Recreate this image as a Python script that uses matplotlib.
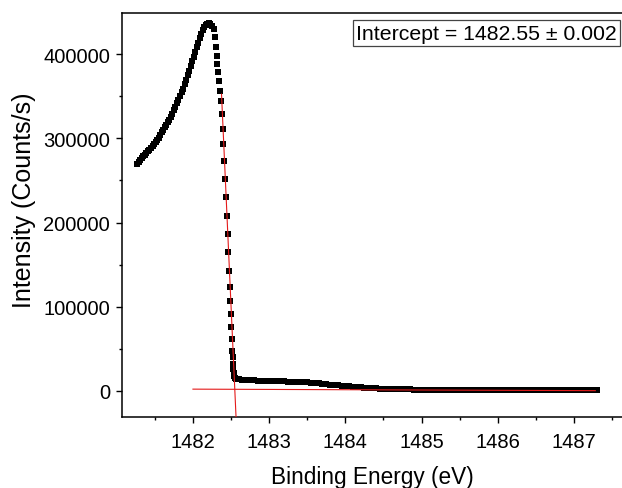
import numpy as np
import matplotlib
matplotlib.use("Agg")
import matplotlib.pyplot as plt
from matplotlib.ticker import MultipleLocator

plt.rcParams['font.family'] = ['Liberation Sans', 'DejaVu Sans']

# rising side of the edge (0.02 eV steps)
energy_rise = np.round(np.arange(1481.27, 1482.22, 0.02), 2)
intensity_rise = [
    270000, 272500, 274500, 276500, 278500, 280500, 282500, 284500, 286500, 288500,
    290500, 293000, 295500, 298000, 301000, 304000, 307000, 310000, 313000, 316000,
    319000, 322000, 325500, 329500, 333500, 337500, 341500, 345500, 350000, 354500,
    359000, 364000, 369500, 375000, 380500, 386000, 391500, 397000, 402500, 408000,
    413500, 419000, 424000, 428500, 432000, 434500, 436000, 436500,
]

# falling edge, points read one by one
energy_fall = [
    1482.23, 1482.25, 1482.27, 1482.285, 1482.30, 1482.31, 1482.32, 1482.33, 1482.34,
    1482.355, 1482.37, 1482.38, 1482.39, 1482.40, 1482.41, 1482.42, 1482.435, 1482.445,
    1482.455, 1482.465, 1482.47, 1482.48, 1482.49, 1482.50, 1482.505, 1482.51, 1482.515,
    1482.52, 1482.525, 1482.53, 1482.535, 1482.54, 1482.55, 1482.56, 1482.58,
]
intensity_fall = [
    436000, 434000, 430000, 420000, 408300, 397600, 388100, 378700, 368000,
    356100, 344200, 328800, 311000, 293200, 273000, 251600, 230300, 207700,
    186400, 165000, 142400, 123400, 106800, 91400, 75900, 61700, 47500,
    40400, 32000, 26100, 21400, 17800, 15500, 14800, 14200,
]

# flat tail above the edge (0.05 eV steps)
energy_tail = np.round(np.arange(1482.60, 1487.31, 0.05), 2)
intensity_tail = [
    14000, 13500, 13100, 12800, 12500, 12300, 12100, 12000, 11900, 11750,
    11600, 11450, 11300, 11150, 11000, 10850, 10700, 10450, 10150, 9850,
    9500, 9050, 8600, 8150, 7700, 7250, 6800, 6350, 5900, 5450,
    5000, 4600, 4200, 3850, 3550, 3250, 3000, 2800, 2600, 2450,
    2300, 2200, 2100, 2000, 1900, 1850, 1750, 1700, 1600, 1550,
    1500, 1450, 1400, 1350, 1300, 1250, 1200, 1150, 1100, 1100,
    1050, 1050, 1000, 1000, 950, 950, 950, 900, 900, 900,
    900, 850, 850, 850, 850, 800, 800, 800, 800, 800,
    800, 750, 750, 750, 750, 750, 700, 700, 700, 700,
    700, 700, 700, 700, 700,
]

# fitted lines (edge slope and background)
edge_fit_x = [1482.375, 1482.5655]
edge_fit_y = [352500, -31000]
base_fit_x = [1482.0, 1487.28]
base_fit_y = [2200, 400]
intercept_text = "Intercept = 1482.55 \u00b1 0.002"

energy = np.concatenate([energy_rise, energy_fall, energy_tail[:len(intensity_tail)]])
intensity = np.concatenate([intensity_rise, intensity_fall, intensity_tail])

fig = plt.figure(figsize=(6.22, 4.89), dpi=100)
ax = fig.add_axes([0.196, 0.145, 0.804, 0.826])

ax.plot(energy, intensity, linestyle='none', marker='s', markersize=3.7,
        color='black', markeredgewidth=0, zorder=2)
ax.plot(edge_fit_x, edge_fit_y, color='#e41a1a', lw=0.8, zorder=3)
ax.plot(base_fit_x, base_fit_y, color='#e41a1a', lw=0.8, zorder=3)

ax.set_xlim(1481.068, 1487.63)
ax.set_ylim(-31000, 448700)

ax.xaxis.set_major_locator(MultipleLocator(1))
ax.xaxis.set_minor_locator(MultipleLocator(0.5))
ax.yaxis.set_major_locator(MultipleLocator(100000))
ax.yaxis.set_minor_locator(MultipleLocator(50000))
ax.ticklabel_format(style='plain', useOffset=False)

ax.tick_params(which='major', direction='out', length=4.5, width=1.0, labelsize=14.5)
ax.tick_params(which='minor', direction='out', length=2.5, width=1.0)
ax.tick_params(axis='x', pad=6)
ax.tick_params(axis='y', pad=4)

for side in ['left', 'bottom', 'top']:
    ax.spines[side].set_linewidth(1.1)
ax.spines['right'].set_visible(False)

ax.set_xlabel("Binding Energy (eV)", fontsize=16.3, labelpad=10)
ax.set_ylabel("Intensity (Counts/s)", fontsize=18)
ax.yaxis.set_label_coords(-0.172, 0.54)

ax.text(0.99, 0.974, intercept_text, transform=ax.transAxes, ha='right', va='top',
        fontsize=15.3,
        bbox=dict(boxstyle='square,pad=0.15', facecolor='white', edgecolor='#444444', lw=0.9))

fig.savefig("out.png", dpi=100)
